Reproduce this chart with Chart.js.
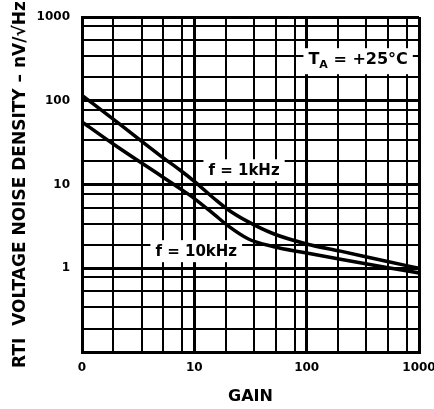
<!DOCTYPE html>
<html>
<head>
<meta charset="utf-8">
<script src="https://cdn.jsdelivr.net/npm/chart.js@4/dist/chart.umd.min.js"></script>
<style>
  html, body { margin: 0; padding: 0; background: #fff; }
  #wrap { width: 434px; height: 409px; }
</style>
</head>
<body>
<div id="wrap"><canvas id="noiseChart" width="434" height="409"></canvas></div>
<script>
const gain = [1, 2, 5, 7.5, 10, 15, 20, 30, 50, 100, 200, 500, 1000];
const noise1k = [116, 57, 22, 14.8, 10.9, 6.8, 5.0, 3.6, 2.6, 1.95, 1.6, 1.22, 1.0];
const noise10k = [56, 29, 12.8, 8.9, 6.8, 4.4, 3.2, 2.25, 1.82, 1.52, 1.28, 1.03, 0.88];

// grid: decade lines plus the (uneven) minor lines of the datasheet
const decadesX = [1, 10, 100, 1000];
const decadesY = [0.1, 1, 10, 100, 1000];
const minorSteps = [1.9, 3.4, 5.3, 7.8];

// tick labels (the datasheet writes "0" at gain 1)
const xMajor = [1, 10, 100, 1000];
const xLabels = ["0", "10", "100", "1000"];
const yMajor = [1, 10, 100, 1000];
const yLabels = ["1", "10", "100", "1000"];

// curve labels: text, gain, noise
const noteText = ["f = 1kHz", "f = 10kHz"];
const noteGain = [27.7, 10.4];
const noteValue = [14.8, 1.6];
const tempGain = 287;
const tempValue = 305;

function gridValues(decades) {
  const out = [];
  decades.forEach(function (d, i) {
    out.push(d);
    if (i < decades.length - 1) {
      minorSteps.forEach(s => out.push(d * s));
    }
  });
  return out;
}
const xGrid = gridValues(decadesX);
const yGrid = gridValues(decadesY);

const FONT = '"DejaVu Sans", sans-serif';

// white boxes + text for the in-plot labels
const notePlugin = {
  id: "notes",
  beforeDatasetsDraw(chart) {
    const ctx = chart.ctx;
    const x = chart.scales.x, y = chart.scales.y;
    ctx.save();
    ctx.textBaseline = "middle";
    ctx.font = "bold 15px " + FONT;

    noteText.forEach(function (t, i) {
      const px = x.getPixelForValue(noteGain[i]);
      const py = y.getPixelForValue(noteValue[i]);
      const w = ctx.measureText(t).width;
      ctx.fillStyle = "#fff";
      ctx.fillRect(px - w / 2 - 5, py - 11, w + 10, 22);
      ctx.fillStyle = "#000";
      ctx.textAlign = "left";
      ctx.fillText(t, px - w / 2, py + 1);
    });

    // T_A = +25°C with a subscript
    const px = x.getPixelForValue(tempGain);
    const py = y.getPixelForValue(tempValue);
    ctx.font = "bold 16px " + FONT;
    const wT = ctx.measureText("T").width;
    const rest = " = +25°C";
    const wR = ctx.measureText(rest).width;
    ctx.font = "bold 11px " + FONT;
    const wA = ctx.measureText("A").width;
    const total = wT + wA + wR;
    let cx = px - total / 2;
    ctx.fillStyle = "#fff";
    ctx.fillRect(cx - 5, py - 12, total + 10, 26);
    ctx.fillStyle = "#000";
    ctx.textAlign = "left";
    ctx.font = "bold 16px " + FONT;
    ctx.fillText("T", cx, py);
    cx += wT;
    ctx.font = "bold 11px " + FONT;
    ctx.fillText("A", cx, py + 5);
    cx += wA;
    ctx.font = "bold 16px " + FONT;
    ctx.fillText(rest, cx, py);
    ctx.restore();
  }
};

function gridWidth(major, vals) {
  return function (c) {
    const v = c.tick.value;
    if (v === vals[0] || v === vals[vals.length - 1]) return 3;
    return major.includes(v) ? 3 : 2;
  };
}

const ctx = document.getElementById("noiseChart").getContext("2d");

new Chart(ctx, {
  type: "scatter",
  data: {
    datasets: [
      {
        label: "f = 1kHz",
        data: gain.map((g, i) => ({ x: g, y: noise1k[i] })),
        showLine: true,
        borderColor: "#000",
        borderWidth: 3.5,
        pointRadius: 0,
        cubicInterpolationMode: "monotone"
      },
      {
        label: "f = 10kHz",
        data: gain.map((g, i) => ({ x: g, y: noise10k[i] })),
        showLine: true,
        borderColor: "#000",
        borderWidth: 3.5,
        pointRadius: 0,
        cubicInterpolationMode: "monotone"
      }
    ]
  },
  options: {
    responsive: false,
    animation: false,
    layout: { padding: { top: 17, right: 15, bottom: 0, left: 0 } },
    plugins: {
      legend: { display: false },
      tooltip: { enabled: false }
    },
    scales: {
      x: {
        type: "logarithmic",
        min: 1,
        max: 1000,
        afterBuildTicks: s => { s.ticks = xGrid.map(v => ({ value: v })); },
        afterFit: s => { s.height = 57; s.paddingRight = 0; s.paddingLeft = 0; },
        grid: { color: "#000", lineWidth: gridWidth(xMajor, xGrid), drawTicks: false },
        border: { display: true, color: "#000", width: 3 },
        ticks: {
          autoSkip: false,
          maxRotation: 0,
          padding: 9,
          color: "#000",
          font: { family: FONT, size: 12, weight: "bold" },
          callback: v => {
            const k = xMajor.indexOf(v);
            return k >= 0 ? xLabels[k] : "";
          }
        },
        title: {
          display: true,
          text: "GAIN",
          color: "#000",
          font: { family: FONT, size: 16, weight: "bold" },
          padding: { top: 0, bottom: 3 }
        }
      },
      y: {
        type: "logarithmic",
        min: 0.1,
        max: 1000,
        afterBuildTicks: s => { s.ticks = yGrid.map(v => ({ value: v })); },
        afterFit: s => { s.width = 82; s.paddingTop = 0; s.paddingBottom = 0; },
        grid: { color: "#000", lineWidth: gridWidth(yMajor, yGrid), drawTicks: false },
        border: { display: true, color: "#000", width: 3 },
        ticks: {
          autoSkip: false,
          padding: 12,
          color: "#000",
          font: { family: FONT, size: 12, weight: "bold" },
          callback: v => {
            const k = yMajor.indexOf(v);
            return k >= 0 ? yLabels[k] : "";
          }
        },
        title: {
          display: true,
          text: "RTI  VOLTAGE NOISE DENSITY – nV/√Hz",
          color: "#000",
          font: { family: FONT, size: 17, weight: "bold" },
          padding: { top: 10, bottom: 0 }
        }
      }
    }
  },
  plugins: [notePlugin]
});
</script>
</body>
</html>
